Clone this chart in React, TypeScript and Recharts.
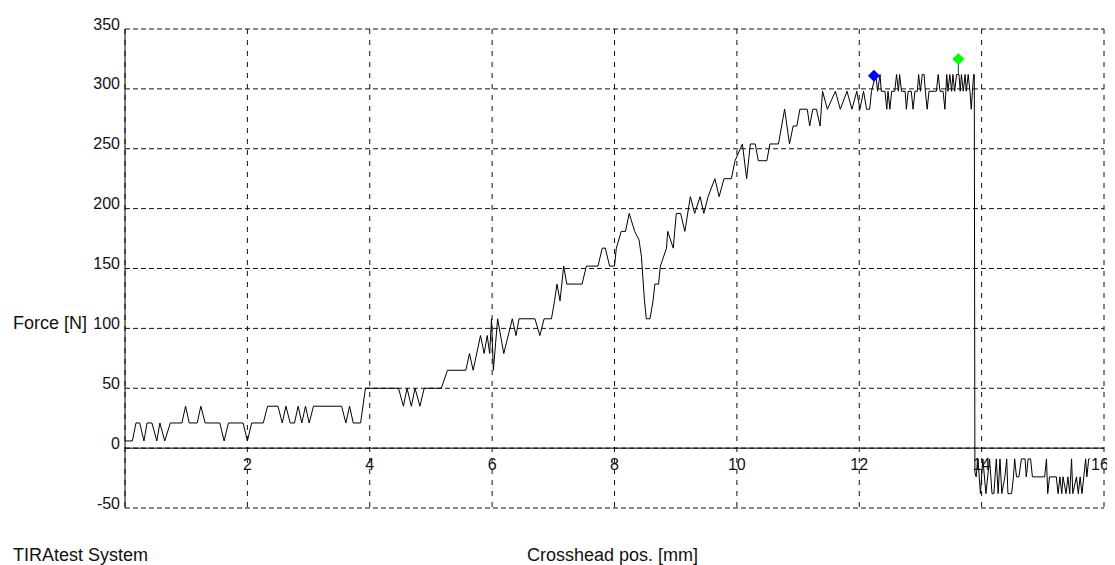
import React from "react";
import {
  ComposedChart,
  Line,
  Scatter,
  XAxis,
  YAxis,
  CartesianGrid,
  ReferenceLine,
} from "recharts";

// crosshead position [mm] and force [N]
const POS = [
  0, 0.12, 0.18, 0.24, 0.31, 0.36, 0.44, 0.52, 0.57, 0.65, 0.74, 0.93, 0.99, 1.05, 1.18, 1.24, 1.31, 1.55, 1.62, 1.69,
  1.93, 2.0, 2.07, 2.26, 2.33, 2.5, 2.57, 2.63, 2.7, 2.77, 2.83, 2.89, 2.95, 3.01, 3.08, 3.54, 3.61, 3.67, 3.73, 3.85,
  3.93, 4.47, 4.55, 4.61, 4.68, 4.74, 4.82, 4.89, 5.17, 5.27, 5.57, 5.63, 5.69, 5.81, 5.87, 5.92, 5.96, 5.99, 6.02, 6.09,
  6.19, 6.33, 6.39, 6.44, 6.7, 6.78, 6.85, 6.97, 7.02, 7.06, 7.11, 7.17, 7.22, 7.47, 7.54, 7.73, 7.8, 7.85, 7.92, 8.0,
  8.03, 8.11, 8.18, 8.24, 8.33, 8.4, 8.44, 8.49, 8.52, 8.58, 8.63, 8.66, 8.72, 8.75, 8.85, 8.87, 8.96, 9.01, 9.08, 9.15,
  9.24, 9.31, 9.4, 9.46, 9.53, 9.64, 9.71, 9.79, 9.91, 9.97, 10.09, 10.16, 10.22, 10.3, 10.35, 10.49, 10.54, 10.68, 10.78, 10.86,
  10.92, 10.98, 11.03, 11.15, 11.19, 11.24, 11.3, 11.36, 11.4, 11.48, 11.61, 11.69, 11.8, 11.88, 11.96, 12.01, 12.07, 12.12, 12.17, 12.2,
  12.27, 12.3, 12.34, 12.36, 12.42, 12.45, 12.47, 12.5, 12.53, 12.58, 12.61, 12.64, 12.66, 12.69, 12.75, 12.77, 12.8, 12.85, 12.88, 12.91,
  12.95, 12.97, 13.0, 13.03, 13.06, 13.08, 13.11, 13.14, 13.24, 13.26, 13.29, 13.32, 13.37, 13.4, 13.43, 13.45, 13.48, 13.51, 13.53, 13.56,
  13.59, 13.63, 13.65, 13.67, 13.7, 13.73, 13.75, 13.78, 13.81, 13.83, 13.85, 13.87, 13.88, 13.89, 13.91, 13.94, 13.98, 14.02, 14.07, 14.13,
  14.17, 14.2, 14.24, 14.27, 14.3, 14.33, 14.38, 14.41, 14.43, 14.49, 14.52, 14.54, 14.57, 14.61, 14.65, 14.71, 14.73, 14.76, 14.8, 14.83,
  14.92, 15.03, 15.06, 15.08, 15.11, 15.22, 15.25, 15.28, 15.31, 15.33, 15.38, 15.41, 15.44, 15.47, 15.49, 15.55, 15.58, 15.61, 15.64, 15.67,
  15.7, 15.72, 15.75, 15.77,
];

const FORCE = [
  6, 6, 21, 21, 6, 21, 21, 6, 21, 6, 21, 21, 35, 21, 21, 35, 21, 21, 6, 21,
  21, 6, 21, 21, 35, 35, 21, 35, 21, 21, 35, 21, 35, 21, 35, 35, 21, 35, 21, 21,
  50, 50, 35, 50, 35, 50, 35, 50, 50, 65, 65, 79, 65, 94, 79, 94, 79, 108, 65, 108,
  79, 108, 94, 108, 108, 94, 108, 108, 123, 137, 123, 152, 137, 137, 152, 152, 167, 167, 152, 152,
  167, 181, 181, 196, 181, 174, 160, 123, 108, 108, 123, 137, 137, 152, 167, 181, 167, 196, 196, 181,
  210, 196, 210, 196, 210, 225, 210, 225, 225, 240, 254, 225, 254, 254, 240, 240, 254, 254, 283, 254,
  269, 269, 283, 283, 269, 283, 283, 269, 298, 283, 298, 283, 298, 283, 298, 283, 298, 283, 283, 298,
  312, 298, 312, 298, 298, 283, 298, 283, 298, 298, 312, 298, 312, 298, 298, 283, 298, 298, 283, 298,
  298, 312, 298, 312, 312, 298, 283, 298, 298, 298, 312, 298, 298, 283, 312, 298, 312, 298, 312, 298,
  312, 312, 298, 312, 298, 312, 298, 312, 298, 283, 298, 312, 312, -20, -24, -9, -38, -9, -38, -9,
  -38, -38, -9, -38, -9, -38, -24, -9, -38, -38, -24, -9, -24, -24, -9, -9, -24, -9, -9, -24,
  -24, -24, -9, -38, -24, -24, -38, -24, -38, -24, -38, -24, -38, -9, -38, -24, -38, -24, -38, -24,
  -9, -24, -9, -9,
];

// marker points
const MAX_POS = [12.24];
const MAX_FORCE = [311];
const BREAK_POS = [13.62];
const BREAK_FORCE = [325];
const BREAK_STEM = [312, 325];

const X_TICKS = [0, 2, 4, 6, 8, 10, 12, 14, 16];
const Y_TICKS = [-50, 0, 50, 100, 150, 200, 250, 300, 350];

const curve = POS.map((x, i) => ({ x, y: FORCE[i] }));
const maxPoint = MAX_POS.map((x, i) => ({ x, y: MAX_FORCE[i] }));
const breakPoint = BREAK_POS.map((x, i) => ({ x, y: BREAK_FORCE[i] }));
const stem = BREAK_STEM.map((y) => ({ x: BREAK_POS[0], y }));

const FONT = "'Liberation Sans', Arial, sans-serif";
const W = 1100;
const H = 550;
const TOP = 21;
const PLOT_H = 479;
const ZERO_Y = TOP + (PLOT_H * 350) / 400;

function YTick({ y, payload }: any) {
  return (
    <text x={112} y={y + 0.5} textAnchor="end" fontSize={16} fontFamily={FONT} fill="#111">
      {payload.value}
    </text>
  );
}

function XTick({ x, payload }: any) {
  if (payload.value === 0) return null;
  return (
    <text x={x} y={ZERO_Y + 22} textAnchor="middle" fontSize={16} fontFamily={FONT} fill="#111">
      {payload.value}
    </text>
  );
}

function Diamond({ cx, cy, fill }: any) {
  const r = 6;
  return <path d={`M${cx},${cy - r}L${cx + r},${cy}L${cx},${cy + r}L${cx - r},${cy}Z`} fill={fill} />;
}

export default function App() {
  return (
    <div style={{ position: "relative", width: 1107, height: 557 }}>
      <ComposedChart width={W} height={H} margin={{ top: TOP, right: 4, bottom: 0, left: 57 }}>
        <CartesianGrid horizontal={false} stroke="#111" strokeDasharray="5 6" />
        <CartesianGrid vertical={false} stroke="#111" strokeDasharray="5 3" />
        <XAxis
          type="number"
          dataKey="x"
          domain={[0, 16]}
          ticks={X_TICKS}
          axisLine={false}
          tickLine={false}
          tick={<XTick />}
          height={50}
          allowDataOverflow
        />
        <YAxis
          type="number"
          dataKey="y"
          domain={[-50, 350]}
          ticks={Y_TICKS}
          axisLine={false}
          tickLine={false}
          tick={<YTick />}
          width={60}
          allowDataOverflow
        />
        <ReferenceLine x={0} stroke="#000" />
        <ReferenceLine y={0} stroke="#000" />
        <Line
          data={curve}
          dataKey="y"
          type="linear"
          stroke="#000"
          strokeWidth={1}
          dot={false}
          isAnimationActive={false}
        />
        <Line
          data={stem}
          dataKey="y"
          type="linear"
          stroke="#333"
          strokeWidth={1}
          dot={false}
          isAnimationActive={false}
        />
        <Scatter data={maxPoint} dataKey="y" fill="#0000ff" shape={<Diamond />} isAnimationActive={false} />
        <Scatter data={breakPoint} dataKey="y" fill="#00ff00" shape={<Diamond />} isAnimationActive={false} />
      </ComposedChart>
      <svg
        width={1107}
        height={557}
        style={{ position: "absolute", left: 0, top: 0, pointerEvents: "none" }}
      >
        <text x={5} y={321} fontSize={18} fontFamily={FONT} fill="#111">
          Force [N]
        </text>
        <text x={5} y={553} fontSize={18} fontFamily={FONT} fill="#111">
          TIRAtest System
        </text>
        <text x={519} y={553} fontSize={18} fontFamily={FONT} fill="#111">
          Crosshead pos. [mm]
        </text>
      </svg>
    </div>
  );
}
